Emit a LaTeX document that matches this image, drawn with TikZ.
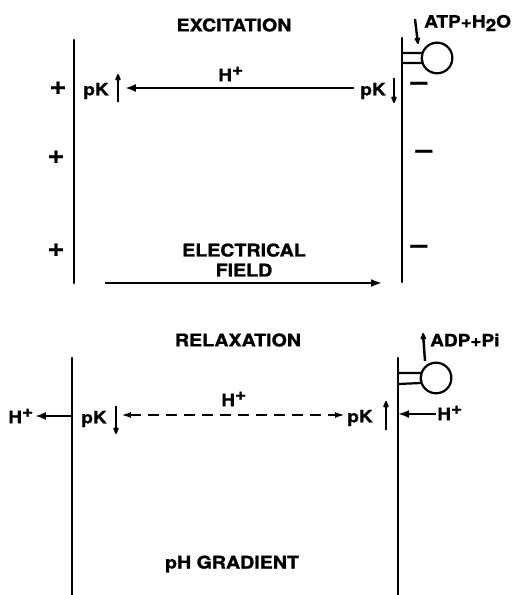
\documentclass[tikz,border=0pt]{standalone}
\usepackage{fontspec}
\setmainfont[FakeStretch=1.12,BoldFeatures={FakeBold=1.2}]{TeX Gyre Heros}
\usepackage{tikz}
\usetikzlibrary{arrows.meta,calc,positioning}
\tikzset{
  memb/.style={line width=2.6pt,line cap=round},
  ttl/.style={font=\bfseries\fontsize{17.5}{20}\selectfont,align=center,inner sep=1pt},
  lbl/.style={font=\bfseries\fontsize{17}{19}\selectfont,inner sep=1pt},
  chg/.style={font=\bfseries\fontsize{26}{26}\selectfont,inner sep=0pt},
  flow/.style={-{Latex[length=11pt,width=8pt]},line width=2.3pt},
  kflow/.style={-{Latex[length=9pt,width=7pt,round]},line width=2.4pt},
  hflow/.style={{Latex[length=10pt,width=6pt]}-{Latex[length=10pt,width=6pt]},line width=2.3pt,dash pattern=on 11pt off 7pt},
  stalk/.style={line width=2.2pt}
}
\begin{document}
\begin{tikzpicture}[x=1pt,y=-1pt]
  \useasboundingbox (0,0) rectangle (525,595);
  % excitation
  \node[ttl] (tA) at (234,25) {EXCITATION};
  \draw[memb] (74,40) coordinate (mA1) -- (74,283) coordinate (mA2);
  \draw[memb] (402,38) coordinate (mB1) -- (402,282) coordinate (mB2);
  \coordinate (bulbA) at (437,58);
  \draw[stalk] (402,53) -- ($(bulbA)+(-14.4,-5)$) arc[start angle=199,end angle=-199,radius=15.3] -- (402,63);
  \node[lbl,anchor=west] (atp) at (423,23) {ATP+H\raisebox{-3.5pt}{2}O};
  \coordinate (atp1) at (415,19);
  \coordinate (atp2) at (418,44);
  \draw[kflow] (atp1) -- (atp2);
  \node[chg] (plA) at (58,88) {+};
  \node[chg] (plB) at (56,157) {+};
  \node[chg] (plC) at (56,250) {+};
  \node[chg] (miA) at (419,86) {--};
  \node[chg] (miB) at (424,154) {--};
  \node[chg] (miC) at (419,249) {--};
  \node[lbl] (pkA) at (96,91) {pK};
  \node[lbl] (pkB) at (373,91) {pK};
  \coordinate (kA1) at (118,102);
  \coordinate (kA2) at (118,74);
  \coordinate (kB1) at (394,78);
  \coordinate (kB2) at (394,103);
  \draw[kflow] (kA1) -- (kA2);
  \draw[kflow] (kB1) -- (kB2);
  \node[lbl] (hA) at (231,74) {H$^{\textbf{+}}$};
  \draw[flow] ([xshift=-5pt,yshift=3pt]pkB.west) -- ([xshift=15pt,yshift=3pt]pkA.east);
  \node[ttl] (field) at (244,260) {ELECTRICAL\\FIELD};
  \draw[flow] (105,283) coordinate (fA) -- (382,283) coordinate (fB);
  % relaxation
  \node[ttl] (tB) at (238,340) {RELAXATION};
  \draw[memb] (72,358) coordinate (mC1) -- (72,597) coordinate (mC2);
  \draw[memb] (398,358) coordinate (mD1) -- (398,597) coordinate (mD2);
  \coordinate (bulbB) at (436,378);
  \draw[stalk] (398,373) -- ($(bulbB)+(-14.4,-5)$) arc[start angle=199,end angle=-199,radius=15.3] -- (398,384);
  \node[lbl,anchor=west] (adp) at (429,340) {ADP+Pi};
  \coordinate (adp1) at (425,361);
  \coordinate (adp2) at (423,333);
  \draw[kflow] (adp1) -- (adp2);
  \node[lbl] (pkC) at (94,419) {pK};
  \node[lbl] (pkD) at (360,418) {pK};
  \coordinate (kC1) at (116,406);
  \coordinate (kC2) at (116,434);
  \coordinate (kD1) at (386,430);
  \coordinate (kD2) at (386,401);
  \draw[kflow] (kC1) -- (kC2);
  \draw[kflow] (kD1) -- (kD2);
  \node[lbl] (hB) at (234,399) {H$^{\textbf{+}}$};
  \draw[hflow] ([xshift=13pt,yshift=4pt]pkC.east) -- ([xshift=-1pt,yshift=4pt]pkC.east-|pkD.west);
  \node[lbl] (hC) at (21,416) {H$^{\textbf{+}}$};
  \node[lbl] (hD) at (450,413) {H$^{\textbf{+}}$};
  \draw[flow] (mC1|-hC) -- (hC.east);
  \draw[flow] ([yshift=-1pt]hD.west) -- ([yshift=-1pt]mD1|-hD);
  \node[ttl] (grad) at (232,564) {pH GRADIENT};
\end{tikzpicture}
\end{document}
